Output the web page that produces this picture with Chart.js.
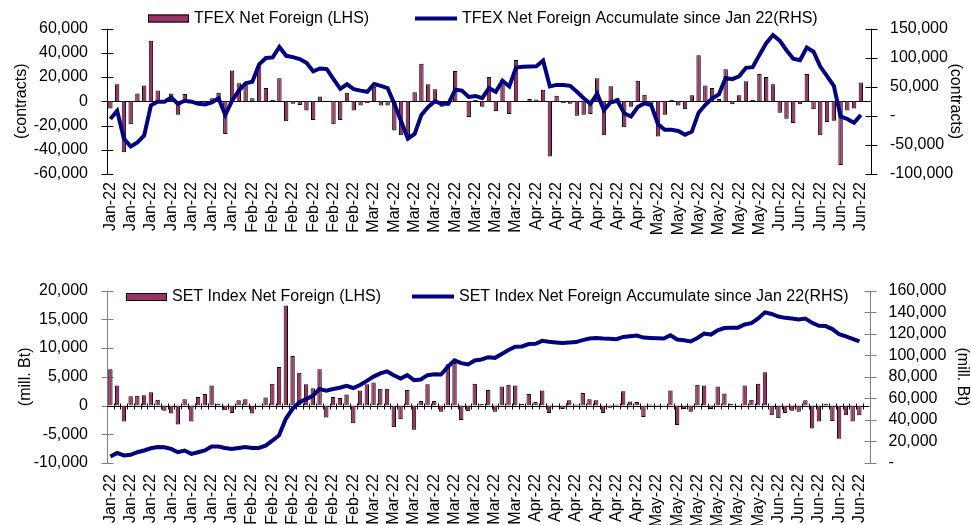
<!DOCTYPE html>
<html lang="en">
<head>
<meta charset="UTF-8">
<title>TFEX / SET Net Foreign</title>
<script src="https://cdn.jsdelivr.net/npm/chart.js@4"></script>
<style>
  html, body { margin: 0; padding: 0; background: #fff; }
  body { width: 971px; height: 525px; position: relative; overflow: hidden; }
  .panel { position: absolute; left: 0; width: 971px; }
  #top { top: 0; height: 262px; }
  #bottom { top: 262px; height: 263px; }
</style>
</head>
<body>
<div class="panel" id="top"><canvas id="tfexChart"></canvas></div>
<div class="panel" id="bottom"><canvas id="setChart"></canvas></div>
<script>
// trading days per month, Jan-Jun 2022 (last slot is empty)
const months = ['Jan-22', 'Feb-22', 'Mar-22', 'Apr-22', 'May-22', 'Jun-22'];
const daysInMonth = [20, 19, 23, 17, 19, 15];

// TFEX net foreign, contracts (LHS)
const tfexNet = [
  -6000, 14000, -42000, -19000, 6500, 13000, 50000, 9000, 1000, 6500,
  -11000, 6000, 500, -1000, 500, 2500, 7000, -27000, 25500, 15000,
  13500, 2500, 29000, 11000, 1000, 19000, -16500, -2000, -3000, -7500,
  -15500, 4000, 500, -19000, -15500, 7000, -7500, -3500, -1500, 12000,
  -3500, -3500, -24000, -28000, -30500, 7500, 31000, 14000, 10000, -4500,
  -1000, 25000, 300, -13000, 1000, -4500, 20000, -8000, 18000, -10500,
  34000, 500, 2000, 1500, 9500, -45500, 4500, -1500, -2000, -12000,
  -11000, -10500, 19000, -28000, 12500, 3000, -21500, -4500, 17000, 5500,
  -2500, -29000, -11000, 1000, -3500, -6500, 5000, 38000, 13000, 11000,
  2000, 26500, -2500, 5000, 16500, 1000, 22500, 20000, 14000, -9500,
  -14500, -18000, -2500, 22500, -6500, -28000, -17000, -16000, -52500, -7500,
  -6000, 15500, null
];
// TFEX net foreign accumulated since Jan 22, contracts (RHS)
const tfexCum = [
  -5400, 8700, -39000, -52700, -45600, -33700, 18000, 24400, 24400, 31500,
  20600, 26000, 24400, 20600, 19500, 23300, 29900, 1600, 26000, 43400,
  56000, 58600, 88500, 99400, 100500, 118400, 103200, 101000, 97700, 91200,
  76600, 81500, 80400, 63000, 46400, 54300, 46000, 43400, 41300, 54800,
  51600, 47800, 20600, -9200, -39100, -31000, 1600, 15200, 25000, 20600,
  20600, 45000, 43400, 32600, 34200, 30400, 47800, 41300, 60300, 50500,
  83000, 84200, 84700, 85200, 95000, 50500, 53200, 53200, 51600, 41300,
  30400, 20600, 38000, 9800, 23300, 26000, 4300, -1100, 15200, 21700,
  17900, -14700, -23900, -23900, -26000, -32600, -27100, 5400, 19000, 29900,
  36900, 65200, 63000, 67900, 82500, 83600, 104800, 124900, 139000, 129200,
  112900, 98300, 95600, 117300, 110200, 84700, 68400, 51600, -1100, -5400,
  -11900, 1600, null
];

// SET index net foreign, mill. Bt (LHS)
const setNet = [
  6300, 3500, -2800, 1600, 1700, 1800, 2300, 1000, -900, -1400,
  -3300, 1100, -2800, 1500, 2000, 3500, 300, -800, -1300, 900,
  1100, -1400, -200, 1400, 3800, 6700, 17400, 8600, 5700, 3700,
  3000, 6300, -2100, 1500, 1300, 1900, -3100, 2600, 3700, 4000,
  2900, 2900, -3800, -2400, 2700, -4200, 800, 3700, 800, -1100,
  7200, 7400, -2500, -1000, 3800, 300, 2700, -1100, 3300, 3600,
  3500, 300, 2000, 600, 2600, -1300, -300, -600, 900, 200,
  2200, 1100, 900, -1300, -400, 200, 2500, 700, 600, -2000,
  200, -200, -300, 2600, -3400, -600, -1100, 3600, 3500, -600,
  3300, 2100, 300, 100, 3500, 1000, 3800, 5800, -1700, -2200,
  -1300, -900, -1100, 900, -4000, -2800, 300, -2700, -5800, -1700,
  -2800, -1700, null
];
// SET index net foreign accumulated since Jan 22, mill. Bt (RHS)
const setCum = [
  6100, 9400, 7000, 7600, 10000, 11600, 13700, 14900, 14600, 13100,
  10000, 11600, 8500, 10000, 11600, 15200, 15200, 14000, 13100, 14000,
  14900, 14000, 14000, 16100, 20700, 25800, 41000, 50200, 56200, 59300,
  62300, 68700, 67200, 68700, 69900, 71700, 69600, 72400, 76200, 80200,
  83100, 85000, 81500, 78400, 81500, 76900, 77500, 81500, 82400, 82100,
  89100, 95200, 92700, 91500, 95200, 96100, 98200, 97600, 101200, 104900,
  107900, 108200, 110400, 110700, 113400, 112500, 111900, 111300, 111900, 112200,
  114000, 115500, 116100, 115500, 115200, 114900, 117000, 117600, 118300, 116400,
  116100, 115800, 115500, 118600, 114600, 114000, 112800, 116100, 120100, 119200,
  123100, 125200, 125600, 125600, 128600, 129800, 134100, 139800, 138300, 135900,
  134700, 134100, 133200, 134100, 130100, 127400, 127100, 124300, 119500, 117600,
  115200, 112800, null
];

const labels = [];
months.forEach((m, k) => { for (let d = 0; d < daysInMonth[k]; d++) labels.push(m); });

const FONT = '"Liberation Sans", Arial, Helvetica, sans-serif';
Chart.defaults.font.family = FONT;
Chart.defaults.font.size = 16;
Chart.defaults.color = '#000';

const fmt = v => v.toLocaleString('en-US');
const fmtDash = v => v === 0 ? '-' : v.toLocaleString('en-US');

// axis lines with crossing tick marks, zero line
const axisDecor = {
  id: 'axisDecor',
  beforeDatasetsDraw(chart, args, opts) {
    const {ctx, chartArea: a, scales} = chart;
    ctx.save();
    ctx.lineWidth = 1;
    ctx.strokeStyle = opts.axisColor;
    ctx.beginPath();
    [['y', a.left], ['y1', a.right]].forEach(([id, x0]) => {
      const s = scales[id];
      const x = Math.round(x0) + 0.5;
      ctx.moveTo(x, a.top);
      ctx.lineTo(x, a.bottom);
      s.ticks.forEach(t => {
        const y = Math.round(s.getPixelForValue(t.value)) + 0.5;
        ctx.moveTo(x - 6, y);
        ctx.lineTo(x + 6, y);
      });
    });
    ctx.stroke();

    const zy = Math.round(scales.y.getPixelForValue(0)) + 0.5;
    ctx.strokeStyle = opts.zeroColor;
    ctx.beginPath();
    ctx.moveTo(a.left, zy);
    ctx.lineTo(a.right, zy);
    if (opts.catTicks) {
      const xs = scales.x;
      for (let i = 1; i < labels.length; i++) {
        const px = Math.round((xs.getPixelForTick(i - 1) + xs.getPixelForTick(i)) / 2) + 0.5;
        ctx.moveTo(px, zy - 3);
        ctx.lineTo(px, zy + 3);
      }
    }
    ctx.stroke();
    ctx.restore();
  }
};

// one-row legend placed over the top of the plot like the original
const legendRow = {
  id: 'legendRow',
  afterDraw(chart, args, opts) {
    const {ctx} = chart;
    ctx.save();
    ctx.font = '16px ' + FONT;
    ctx.textBaseline = 'middle';
    chart.data.datasets.forEach((ds, i) => {
      const it = opts.items[i];
      if (ds.type === 'bar') {
        ctx.fillStyle = ds.backgroundColor;
        ctx.fillRect(it.x, it.y - 4, it.w, 8);
        ctx.strokeStyle = '#000';
        ctx.lineWidth = 1;
        ctx.strokeRect(it.x + 0.5, it.y - 3.5, it.w - 1, 7);
      } else {
        ctx.strokeStyle = ds.borderColor;
        ctx.lineWidth = ds.borderWidth;
        ctx.beginPath();
        ctx.moveTo(it.x, it.y);
        ctx.lineTo(it.x + it.w, it.y);
        ctx.stroke();
      }
      ctx.fillStyle = '#000';
      ctx.fillText(ds.label, it.x + it.w + 5, it.y);
    });
    ctx.restore();
  }
};

function makeChart(id, c) {
  return new Chart(document.getElementById(id), {
    type: 'bar',
    data: {
      labels: labels,
      datasets: [
        {
          type: 'bar', label: c.barLabel, data: c.bars, yAxisID: 'y', order: 2,
          backgroundColor: '#993366', borderColor: '#000', borderWidth: 1,
          barPercentage: 0.65, categoryPercentage: 1
        },
        {
          type: 'line', label: c.lineLabel, data: c.cum, yAxisID: 'y1', order: 1,
          borderColor: '#000080', borderWidth: 4, pointRadius: 0, tension: 0
        }
      ]
    },
    options: {
      responsive: true,
      maintainAspectRatio: false,
      animation: false,
      devicePixelRatio: 1,
      layout: { padding: { top: c.padTop, left: 0, right: 0, bottom: 0 } },
      plugins: {
        legend: { display: false },
        tooltip: { enabled: false },
        axisDecor: { axisColor: c.axisColor, zeroColor: '#000', catTicks: c.catTicks },
        legendRow: { items: c.legend }
      },
      scales: {
        x: {
          grid: { display: false, drawTicks: false },
          border: { display: false },
          ticks: {
            autoSkip: false, minRotation: 90, maxRotation: 90, padding: c.xPad,
            callback: (v, i) => i % 3 === 0 ? labels[i] : ''
          },
          afterFit: s => { s.height = c.xH; }
        },
        y: {
          position: 'left', min: c.left.min, max: c.left.max,
          grid: { display: false, drawTicks: false },
          border: { display: false },
          ticks: { stepSize: c.left.step, padding: 19, autoSkip: false, callback: c.left.fmt },
          title: { display: true, text: c.left.title, font: { size: 16, lineHeight: 1 }, padding: { top: c.left.tPad, bottom: 0 } },
          afterFit: s => { s.width = c.leftW; }
        },
        y1: {
          position: 'right', min: c.right.min, max: c.right.max,
          grid: { display: false, drawTicks: false },
          border: { display: false },
          ticks: { stepSize: c.right.step, padding: 19, autoSkip: false, callback: c.right.fmt },
          title: { display: true, text: c.right.title, font: { size: 16, lineHeight: 1 }, padding: { top: c.right.tPad, bottom: 0 } },
          afterFit: s => { s.width = c.rightW; }
        }
      }
    },
    plugins: [axisDecor, legendRow]
  });
}

makeChart('tfexChart', {
  barLabel: 'TFEX Net Foreign (LHS)',
  lineLabel: 'TFEX Net Foreign Accumulate since Jan 22(RHS)',
  bars: tfexNet, cum: tfexCum,
  padTop: 21, xH: 88, xPad: 8, leftW: 107, rightW: 100,
  axisColor: '#000', catTicks: false,
  left: { min: -60000, max: 60000, step: 20000, fmt: fmt, title: '(contracts)', tPad: 13.5 },
  right: { min: -100000, max: 150000, step: 50000, fmt: fmtDash, title: '(contracts)', tPad: 8 },
  legend: [{ x: 148, y: 18.5, w: 41 }, { x: 415, y: 18.5, w: 42 }]
});

makeChart('setChart', {
  barLabel: 'SET Index Net Foreign (LHS)',
  lineLabel: 'SET Index Net Foreign Accumulate since Jan 22(RHS)',
  bars: setNet, cum: setCum,
  padTop: 26, xH: 62, xPad: 11, leftW: 107, rightW: 101.5,
  axisColor: '#808080', catTicks: true,
  left: { min: -10000, max: 20000, step: 5000, fmt: fmt, title: '(mill. Bt)', tPad: 18 },
  right: { min: 0, max: 160000, step: 20000, fmt: fmtDash, title: '(mill. Bt)', tPad: 1 },
  legend: [{ x: 126, y: 35, w: 41 }, { x: 412, y: 34.5, w: 42 }]
});
</script>
</body>
</html>
